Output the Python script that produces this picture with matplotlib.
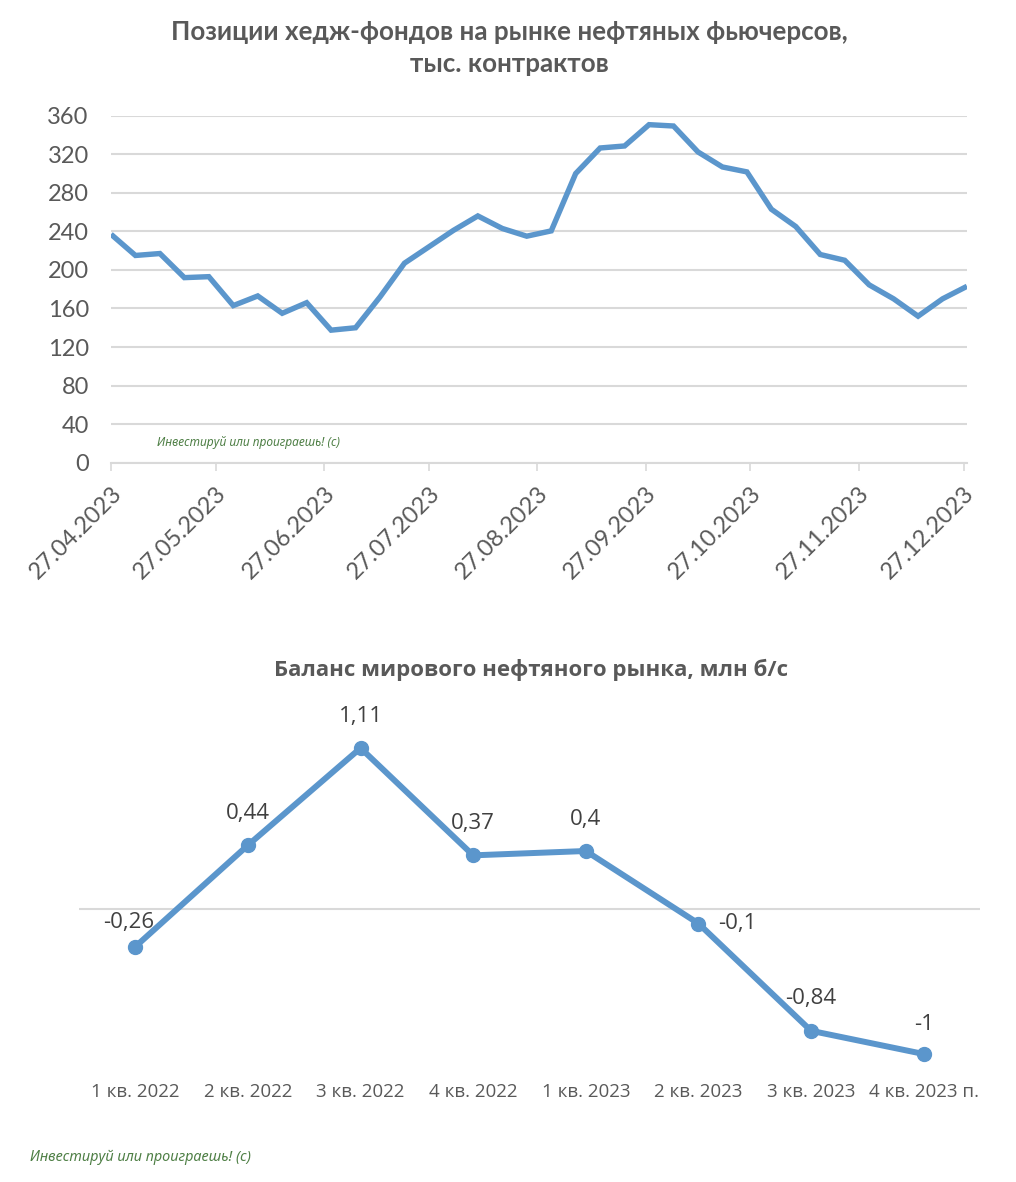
import matplotlib
matplotlib.use("Agg")
import matplotlib.pyplot as plt
import numpy as np

# ---------------- data ----------------
week_dates = ["2023-04-27", "2023-05-04", "2023-05-11", "2023-05-18", "2023-05-25",
              "2023-06-01", "2023-06-08", "2023-06-15", "2023-06-22", "2023-06-29",
              "2023-07-06", "2023-07-13", "2023-07-20", "2023-07-27", "2023-08-03",
              "2023-08-10", "2023-08-17", "2023-08-24", "2023-08-31", "2023-09-07",
              "2023-09-14", "2023-09-21", "2023-09-28", "2023-10-05", "2023-10-12",
              "2023-10-19", "2023-10-26", "2023-11-02", "2023-11-09", "2023-11-16",
              "2023-11-23", "2023-11-30", "2023-12-07", "2023-12-14", "2023-12-21",
              "2023-12-28"]
hedge_positions = [237, 215, 217, 192, 193, 163, 173, 155, 166, 137.5,
                   140, 172, 207, 224, 241, 256, 243, 235, 240.5, 300,
                   326.5, 328.6, 350.7, 349.3, 322.4, 306.8, 301.7, 263, 245, 216,
                   210, 184.5, 170, 152, 170, 183]
date_tick_labels = ["27.04.2023", "27.05.2023", "27.06.2023", "27.07.2023", "27.08.2023",
                    "27.09.2023", "27.10.2023", "27.11.2023", "27.12.2023"]
y_ticks_top = [0, 40, 80, 120, 160, 200, 240, 280, 320, 360]

quarters = ["1 кв. 2022", "2 кв. 2022", "3 кв. 2022", "4 кв. 2022",
            "1 кв. 2023", "2 кв. 2023", "3 кв. 2023", "4 кв. 2023 п."]
balance = [-0.26, 0.44, 1.11, 0.37, 0.4, -0.1, -0.84, -1]

title_top = "Позиции хедж-фондов на рынке нефтяных фьючерсов,\nтыс. контрактов"
title_bottom = "Баланс мирового нефтяного рынка, млн б/с"
watermark = "Инвестируй или проиграешь! (с)"

# ---------------- style ----------------
plt.rcParams['font.family'] = ['Open Sans', 'DejaVu Sans']
BLUE = "#5B96CC"
GRAY_TXT = "#595959"
GRID = "#D9D9D9"
GREEN = "#4E7F45"
LATO = ['Lato', 'DejaVu Sans']

W, H = 1016, 1182
fig = plt.figure(figsize=(W / 100, H / 100), dpi=100)
fig.patch.set_facecolor("white")

def fx(px):
    return px / W

def fy(py):
    return 1 - py / H

# ---------------- top chart ----------------
ax1 = fig.add_axes([fx(111), fy(462.7), fx(967) - fx(111), fy(115.7) - fy(462.7)])
dates = np.array(week_dates, dtype="datetime64[D]")
ax1.plot(dates, hedge_positions, color=BLUE, lw=3.9, solid_joinstyle="miter",
         solid_capstyle="butt", zorder=3)
ax1.set_ylim(0, 360)
ax1.set_yticks(y_ticks_top)
ax1.set_yticklabels([str(v) for v in y_ticks_top], fontsize=17, color=GRAY_TXT,
                    family=LATO)
ax1.grid(axis="y", color=GRID, lw=1.5, zorder=0)
tick_dates = [np.datetime64("-".join(reversed(s.split("."))), "D") for s in date_tick_labels]
ax1.set_xticks(tick_dates)
ax1.set_xticklabels(date_tick_labels, rotation=45, ha="right", va="top",
                    rotation_mode="anchor", fontsize=17, color=GRAY_TXT,
                    family=LATO)
ax1.set_xlim(dates[0], dates[-1])
for s in ["top", "right", "left"]:
    ax1.spines[s].set_visible(False)
ax1.spines["bottom"].set_color(GRID)
ax1.spines["bottom"].set_linewidth(1.5)
ax1.tick_params(axis="y", length=0, pad=16)
ax1.tick_params(axis="x", length=6, width=1.2, color=GRID, direction="out", pad=8)
ax1.set_facecolor("none")

fig.text(fx(509), fy(48), title_top, ha="center", va="center", fontsize=18.7,
         fontweight="bold", color=GRAY_TXT, linespacing=1.45, family=LATO)
fig.text(fx(157), fy(443), watermark, ha="left", va="center", fontsize=8.6,
         style="italic", color=GREEN, family=['Noto Sans', 'DejaVu Sans'])

# ---------------- bottom chart ----------------
ax2 = fig.add_axes([fx(79), fy(1083), fx(980) - fx(79), fy(735) - fy(1083)])
xpos = np.arange(len(quarters))
ax2.plot(xpos, balance, color=BLUE, lw=4.3, marker="o", markersize=10,
         markerfacecolor=BLUE, markeredgecolor=BLUE, zorder=3, clip_on=False)
ax2.axhline(0, color=GRID, lw=1.5, zorder=1)
ax2.set_xlim(-0.5, len(quarters) - 0.5)
ax2.set_ylim(-1.2, 1.2)
ax2.set_yticks([])
ax2.set_xticks(xpos)
ax2.set_xticklabels(quarters, fontsize=13.5, color=GRAY_TXT)
ax2.tick_params(axis="x", length=0, pad=0)
for s in ax2.spines.values():
    s.set_visible(False)
ax2.set_facecolor("none")

label_offsets = [(-7, 24), (0, 32), (0, 32), (0, 32), (0, 31), (39, 0), (0, 32), (0, 30)]
for i, v in enumerate(balance):
    txt = f"{v:g}".replace(".", ",")
    dx, dy = label_offsets[i]
    ax2.annotate(txt, (xpos[i], v), xytext=(dx * 0.72, dy * 0.72),
                 textcoords="offset points", ha="center", va="center",
                 fontsize=16, color="#404040", annotation_clip=False)

fig.text(fx(531), fy(670), title_bottom, ha="center", va="center", fontsize=16,
         fontweight="bold", color=GRAY_TXT)
fig.text(fx(30), fy(1157), watermark, ha="left", va="center", fontsize=10.4,
         style="italic", color=GREEN, family=['Noto Sans', 'DejaVu Sans'])

fig.savefig("out.png", dpi=100, facecolor="white")
